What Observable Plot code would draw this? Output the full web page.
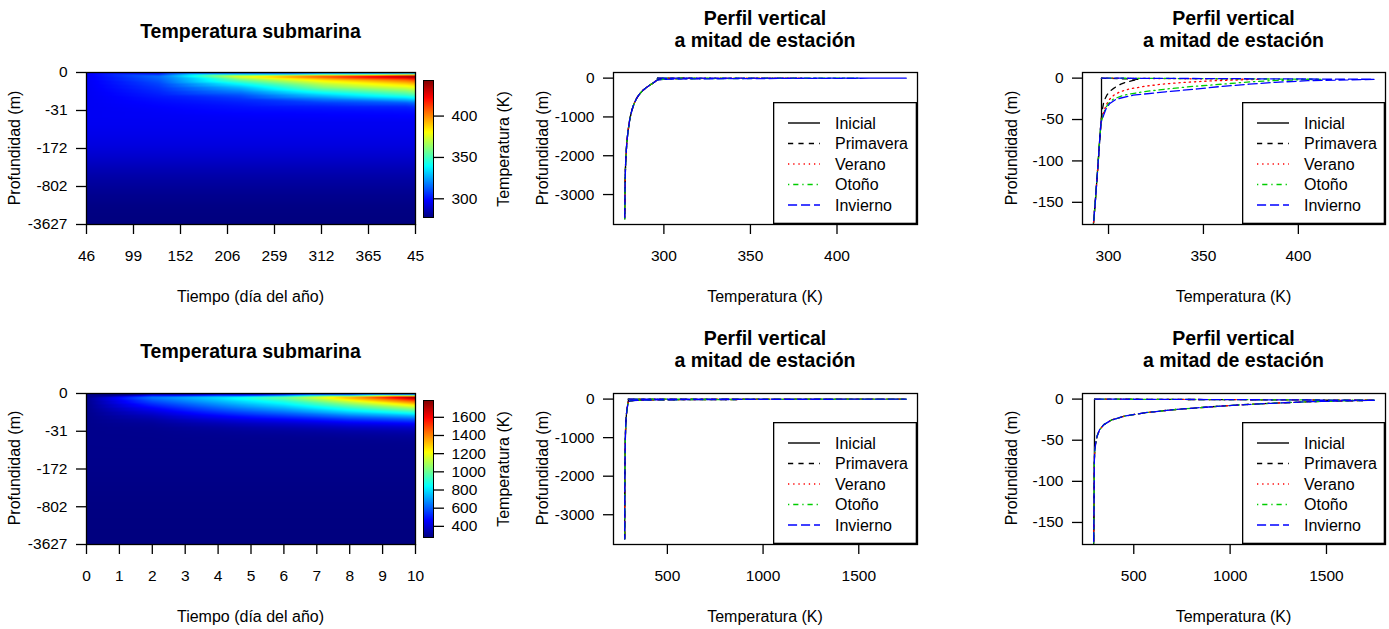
<!DOCTYPE html>
<html><head><meta charset="utf-8">
<script src="https://cdn.jsdelivr.net/npm/d3@7"></script>
<script src="https://cdn.jsdelivr.net/npm/@observablehq/plot@0.6"></script>
<style>
html,body{margin:0;padding:0;background:#fff;}
#root{position:relative;width:1389px;height:629px;overflow:hidden;font-family:"Liberation Sans",Arial,Helvetica,sans-serif;color:#000;background:#fff;}
.t{position:absolute;white-space:nowrap;line-height:1;}
</style></head><body><div id="root"></div>
<script>
// ---------------- DATA ----------------
// model depth levels (m, positive downward), level index 0..40
const depthLevels = [0, 1.4, 3.1, 5.1, 7.3, 9.9, 13, 16.5, 20.6, 25.4, 31, 37.5, 45, 54, 64, 76, 90, 106, 125, 147,
  172, 201, 235, 275, 321, 375, 438, 511, 596, 694, 802, 935, 1090, 1270, 1480, 1720, 2000, 2330, 2710, 3150, 3627];
// initial temperature profile (K) at every level
const initialProfile = [296.3, 296.3, 296.3, 296.3, 296.3, 296.3, 296.3, 296.3, 296.3, 296.3, 296.3, 296.3, 296.3,
  296.0, 295.7, 295.3, 294.9, 294.4, 293.8, 293.1, 292.2, 291.2, 290.1, 289.0, 287.8, 286.6, 285.5, 284.4, 283.4,
  282.5, 281.7, 280.9, 280.2, 279.6, 279.0, 278.5, 278.1, 277.8, 277.6, 277.5, 277.4];

const depthTickLevels = [0, 10, 20, 30, 40];
const depthTickLabels = ["0", "-31", "-172", "-802", "-3627"];

const seasonNames = ["Inicial", "Primavera", "Verano", "Otoño", "Invierno"];
const seasonColors = ["#000000", "#000000", "#FF0000", "#00CD00", "#0000FF"];
const seasonDash = [null, "5.2,5.2", "1.3,3.9", "1.3,3.9,5.2,3.9", "9.1,3.9"];

// Scenario 1 (one year): upper levels (0..12) of the mid-season profiles; deeper levels equal the initial profile
const spring1 = [296.3, 316, 312.5, 309, 306.5, 304.3, 302.3, 300.4, 299.1, 298.1, 297.3, 296.8, 296.5];
const summer1 = [296.3, 380, 356, 340, 328, 319, 311, 306, 302.8, 300.6, 299.1, 297.9, 297.0];
const autumn1 = [296.3, 412, 385, 371, 360, 345, 331, 318, 308, 302.5, 299.8, 298.2, 297.2];
const winter1 = [296.3, 440, 405, 388, 374, 360, 347, 330, 313, 304, 300.5, 298.6, 297.4];
const final1  = [296.3, 443, 411, 392, 378, 364, 351, 334, 316, 306, 301.2, 299, 297.6];
const heatDays1 = [0, 80, 171, 263, 354, 365];      // days since start for the heat-map columns
const dayTickLabels1 = ["46", "99", "152", "206", "259", "312", "365", "45"];
const dayTicks1 = [0, 52.14, 104.29, 156.43, 208.57, 260.71, 312.86, 365];
const tempTicks1 = [300, 350, 400];

// Scenario 2 (ten days): mid-season profiles coincide
const season2 = [296.3, 1748, 1420, 1215, 1030, 870, 700, 560, 455, 385, 345, 322, 310, 302, 297.5];
const day2_2  = [296.3, 650, 580, 515, 455, 405, 362, 333, 314, 304, 299.8, 297.9, 297, 296.6, 296.4];
const day4_2  = [296.3, 800, 740, 670, 600, 530, 460, 400, 355, 326, 311, 304, 300, 298, 297];
const day6_2  = [296.3, 1010, 900, 810, 720, 630, 540, 455, 390, 348, 322, 309, 302, 298.7, 297.3];
const day8_2  = [296.3, 1360, 1170, 1020, 890, 770, 640, 525, 435, 375, 337, 317, 305, 300, 297.5];
const day10_2 = [296.3, 1785, 1470, 1260, 1070, 900, 725, 580, 468, 393, 350, 325, 311, 302.5, 297.8];
const heatDays2 = [0, 2, 4, 6, 8, 10];
const dayTicks2 = [0, 1, 2, 3, 4, 5, 6, 7, 8, 9, 10];
const tempTicks2 = [500, 1000, 1500];
const colorTicks1 = [300, 350, 400];
const colorTicks2 = [400, 600, 800, 1000, 1200, 1400, 1600];

const fullDepthTicks = [0, -1000, -2000, -3000];
const upperDepthTicks = [0, -50, -100, -150];
const upperDepthLimit = 170;

// ---------------- HELPERS ----------------
const FONT = '"Liberation Sans", Arial, Helvetica, sans-serif';
const root = document.getElementById("root");
const jetColors = ["#00007F", "#0000FF", "#007FFF", "#00FFFF", "#7FFF7F", "#FFFF00", "#FF7F00", "#FF0000", "#7F0000"];
const jet = d3.piecewise(d3.interpolateRgb, jetColors);
const full = top => top.concat(initialProfile.slice(top.length));
const baseStyle = {background: "none", overflow: "visible", fontFamily: FONT, fontSize: "15.5px", color: "#000"};

function place(node, left, top) {
  node.style.position = "absolute";
  node.style.left = left + "px";
  node.style.top = top + "px";
  root.appendChild(node);
}
function label(text, cx, cy, {size = 16, bold = false, rotate = 0} = {}) {
  const d = document.createElement("div");
  d.className = "t";
  d.textContent = text;
  d.style.left = cx + "px";
  d.style.top = cy + "px";
  d.style.fontSize = size + "px";
  if (bold) d.style.fontWeight = "bold";
  d.style.transform = `translate(-50%,-50%) rotate(${rotate}deg)`;
  root.appendChild(d);
}

function heatmap(cols, days, tMax, ticks, tickLabels, cdomain, top, height, mT, mB) {
  const data = [];
  cols.forEach((vals, c) => vals.forEach((v, lev) => data.push({t: days[c], lev, v})));
  const svg = Plot.plot({
    width: 418, height, marginLeft: 86, marginRight: 3, marginTop: mT, marginBottom: mB,
    style: baseStyle,
    x: {domain: [0, tMax], axis: null},
    y: {domain: [40, 0], axis: null},
    color: {type: "linear", domain: cdomain, interpolate: jet},
    marks: [
      Plot.raster(data, {x: "t", y: "lev", fill: "v", interpolate: "barycentric", x1: 0, x2: tMax, y1: 0, y2: 40}),
      Plot.frame({stroke: "#000", strokeWidth: 1.3}),
      Plot.axisX({ticks, tickFormat: d => tickLabels[ticks.indexOf(d)], tickSize: 10, tickPadding: 15, strokeWidth: 1.3, label: null}),
      Plot.axisY({ticks: depthTickLevels, tickFormat: d => depthTickLabels[depthTickLevels.indexOf(d)], tickSize: 10, tickPadding: 9, strokeWidth: 1.3, label: null})
    ]
  });
  place(svg, 0, top);
}

function colorbar(cdomain, ticks, top, height, mT, mB) {
  const svg = Plot.plot({
    width: 100, height, marginLeft: 5, marginRight: 85, marginTop: mT, marginBottom: mB,
    style: baseStyle,
    x: {domain: [0, 1], axis: null},
    y: {domain: cdomain, axis: null},
    color: {type: "linear", domain: cdomain, interpolate: jet},
    marks: [
      Plot.raster({x1: 0, x2: 1, y1: cdomain[0], y2: cdomain[1], fill: (x, y) => y}),
      Plot.frame({stroke: "#000", strokeWidth: 1}),
      Plot.axisY({anchor: "right", ticks, tickFormat: d => String(d), tickSize: 10, tickPadding: 8, strokeWidth: 1.3, label: null})
    ]
  });
  place(svg, 418, top);
}

function profilePanel(profiles, left, width, mL, mR, top, height, mT, mB, depthLimit, xTicks, yTicks) {
  const vals = profiles.flatMap(p => p.filter((_, i) => depthLevels[i] <= (depthLimit ? depthLimit + 2 : Infinity)));
  const [a, b] = d3.extent(vals);
  const xd = [a - 0.04 * (b - a), b + 0.04 * (b - a)];
  const dmax = depthLimit || d3.max(depthLevels);
  const yd = [-dmax - 0.04 * dmax, 0.04 * dmax];
  const marks = profiles.map((p, k) => Plot.line(p.map((T, i) => ({T, d: -depthLevels[i]})), {
    x: "T", y: "d", stroke: seasonColors[k], strokeWidth: 1.3, strokeDasharray: seasonDash[k], clip: true
  }));
  const svg = Plot.plot({
    width, height, marginLeft: mL, marginRight: mR, marginTop: mT, marginBottom: mB,
    style: baseStyle,
    x: {domain: xd, axis: null},
    y: {domain: yd, axis: null},
    marks: [
      ...marks,
      Plot.frame({stroke: "#000", strokeWidth: 1.3}),
      Plot.axisX({ticks: xTicks, tickFormat: d => String(d), tickSize: 10, tickPadding: 15, strokeWidth: 1.3, label: null}),
      Plot.axisY({ticks: yTicks, tickFormat: d => String(d), tickSize: 10, tickPadding: 9, strokeWidth: 1.3, label: null})
    ]
  });
  place(svg, left, top);
}

function legend(left, top, width, height) {
  const svg = d3.create("svg").attr("width", width).attr("height", height).style("overflow", "visible");
  svg.append("rect").attr("x", 0.65).attr("y", 0.65).attr("width", width - 1.3).attr("height", height - 1.3)
    .attr("fill", "white").attr("stroke", "#000").attr("stroke-width", 1.3);
  seasonNames.forEach((name, i) => {
    const y = 21 + i * 20.5;
    svg.append("line").attr("x1", 15).attr("x2", 47).attr("y1", y).attr("y2", y)
      .attr("stroke", seasonColors[i]).attr("stroke-width", 1.4).attr("stroke-dasharray", seasonDash[i]);
    svg.append("text").attr("x", 62).attr("y", y).attr("dy", "0.35em").attr("font-size", 16)
      .attr("font-family", FONT).attr("fill", "#000").text(name);
  });
  place(svg.node(), left, top);
}

// ---------------- ROW 1 ----------------
const heatCols1 = [initialProfile, full(spring1), full(summer1), full(autumn1), full(winter1), full(final1)];
const cdom1 = d3.extent(heatCols1.flat());
heatmap(heatCols1, heatDays1, 365, dayTicks1, dayTickLabels1, cdom1, 0, 310, 72, 86);
colorbar(cdom1, colorTicks1, 0, 310, 80, 93);
const prof1 = [initialProfile, full(spring1), full(summer1), full(autumn1), full(winter1)];
profilePanel(prof1, 520, 410, 93, 13, 0, 310, 72, 86, null, tempTicks1, fullDepthTicks);
profilePanel(prof1, 990, 399, 92, 4, 0, 310, 72, 86, upperDepthLimit, tempTicks1, upperDepthTicks);
legend(773, 102, 144, 122);
legend(1242, 102, 143, 122);

// ---------------- ROW 2 ----------------
const heatCols2 = [initialProfile, full(day2_2), full(day4_2), full(day6_2), full(day8_2), full(day10_2)];
const cdom2 = d3.extent(heatCols2.flat());
heatmap(heatCols2, heatDays2, 10, dayTicks2, dayTicks2.map(String), cdom2, 320, 309, 73, 85);
colorbar(cdom2, colorTicks2, 320, 309, 80, 92);
const prof2 = [initialProfile, full(season2), full(season2), full(season2), full(season2)];
profilePanel(prof2, 520, 410, 93, 13, 320, 309, 73, 85, null, tempTicks2, fullDepthTicks);
profilePanel(prof2, 990, 399, 92, 4, 320, 309, 73, 85, upperDepthLimit, tempTicks2, upperDepthTicks);
legend(773, 422, 144, 122);
legend(1242, 422, 143, 122);

// ---------------- TEXT ----------------
[0, 320].forEach(dy => {
  label("Temperatura submarina", 250.5, 31.5 + dy, {size: 19.5, bold: true});
  label("Perfil vertical", 765, 19 + dy, {size: 19.5, bold: true});
  label("a mitad de estación", 765, 41 + dy, {size: 19.5, bold: true});
  label("Perfil vertical", 1233.5, 19 + dy, {size: 19.5, bold: true});
  label("a mitad de estación", 1233.5, 41 + dy, {size: 19.5, bold: true});
  label("Tiempo (día del año)", 250.5, 297 + dy);
  label("Temperatura (K)", 765, 297 + dy);
  label("Temperatura (K)", 1233.5, 297 + dy);
  label("Profundidad (m)", 15, 148 + dy, {rotate: -90});
  label("Profundidad (m)", 542.5, 148 + dy, {rotate: -90});
  label("Profundidad (m)", 1011.5, 148 + dy, {rotate: -90});
  label("Temperatura (K)", 504, 148.5 + dy, {rotate: -90});
});
</script></body></html>
